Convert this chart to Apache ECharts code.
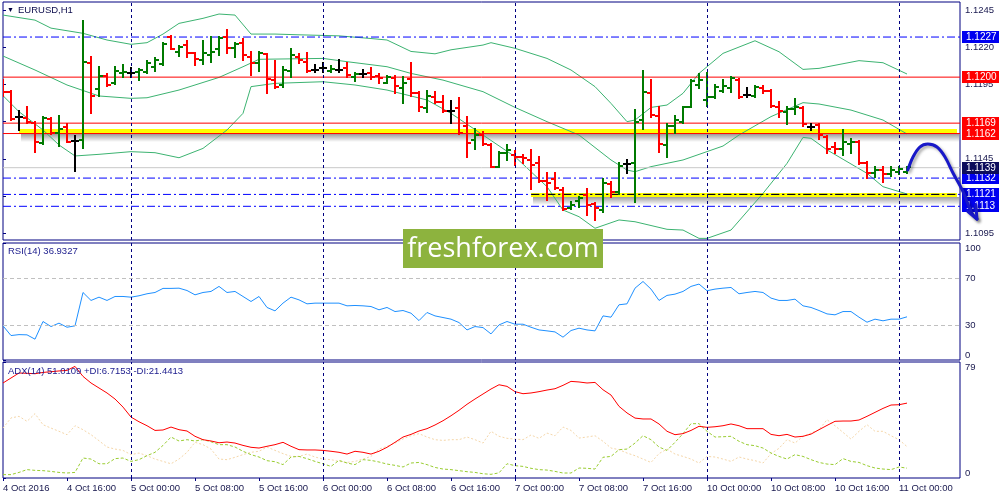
<!DOCTYPE html>
<html><head><meta charset="utf-8">
<script src="https://cdn.jsdelivr.net/npm/echarts@6/dist/echarts.min.js"></script>
<style>html,body{margin:0;padding:0;background:#fff}#c{width:1000px;height:500px}</style>
</head><body><div id="c"></div><script>
// ---------- data ----------
const timeLabels = ['4 Oct 2016','4 Oct 16:00','5 Oct 00:00','5 Oct 08:00','5 Oct 16:00','6 Oct 00:00','6 Oct 08:00','6 Oct 16:00','7 Oct 00:00','7 Oct 08:00','7 Oct 16:00','10 Oct 00:00','10 Oct 08:00','10 Oct 16:00','11 Oct 00:00'];
const barsPerLabel = 8;
const priceTicks = [1.1095,1.1120,1.1145,1.1170,1.1195,1.1220,1.1245];
const rsiTicks = [0,30,70,100];
const rsiLevels = [70,30];
const adxTicks = [0,79];

const open = [1.11969,1.11902,1.11729,1.11722,1.11693,1.11558,1.11720,1.11626,1.11662,1.11570,
1.11576,1.12097,1.11918,1.12007,1.11958,1.12025,1.12030,1.12032,1.12037,1.12066,
1.12086,1.12272,1.12171,1.12216,1.12160,1.12115,1.12149,1.12187,1.12272,1.12194,
1.12227,1.12133,1.12093,1.12153,1.11980,1.11947,1.12043,1.12138,1.12104,1.12048,
1.12059,1.12043,1.12048,1.12059,1.12003,1.12021,1.12030,1.12010,1.11963,1.11992,
1.11924,1.11985,1.11895,1.11790,1.11868,1.11835,1.11774,1.11790,1.11671,1.11576,
1.11610,1.11543,1.11397,1.11491,1.11475,1.11464,1.11442,1.11419,1.11298,1.11312,
1.11240,1.11116,1.11168,1.11206,1.11143,1.11105,1.11280,1.11229,1.11415,1.11419,
1.11711,1.11895,1.11738,1.11543,1.11671,1.11700,1.11796,1.11947,1.11846,1.11864,
1.11909,1.11924,1.11980,1.11879,1.11873,1.11924,1.11906,1.11796,1.11767,1.11783,
1.11790,1.11666,1.11677,1.11594,1.11532,1.11514,1.11550,1.11565,1.11424,1.11352,
1.11374,1.11347,1.11363,1.11363];
const high = [1.11980,1.11906,1.11774,1.11796,1.11700,1.11729,1.11727,1.11738,1.11684,1.11603,
1.12378,1.12133,1.12066,1.12021,1.12066,1.12082,1.12059,1.12052,1.12111,1.12126,
1.12227,1.12277,1.12209,1.12245,1.12165,1.12245,1.12268,1.12268,1.12317,1.12232,
1.12254,1.12171,1.12171,1.12156,1.12111,1.12066,1.12187,1.12156,1.12160,1.12082,
1.12093,1.12075,1.12115,1.12093,1.12030,1.12048,1.12059,1.12019,1.12007,1.12007,
1.11998,1.12093,1.11902,1.11909,1.11902,1.11873,1.11841,1.11857,1.11729,1.11648,
1.11633,1.11550,1.11498,1.11543,1.11505,1.11475,1.11509,1.11464,1.11352,1.11352,
1.11251,1.11161,1.11195,1.11244,1.11150,1.11312,1.11296,1.11424,1.11442,1.11778,
1.12043,1.11980,1.11796,1.11684,1.11738,1.11796,1.11980,1.12021,1.12025,1.11947,
1.11980,1.11998,1.11985,1.11924,1.11940,1.11940,1.11913,1.11835,1.11796,1.11850,
1.11796,1.11684,1.11684,1.11603,1.11554,1.11644,1.11581,1.11572,1.11430,1.11397,
1.11397,1.11397,1.11397,1.11397];
const low = [1.11873,1.11711,1.11644,1.11689,1.11498,1.11550,1.11617,1.11538,1.11561,1.11370,
1.11520,1.11756,1.11873,1.11942,1.11951,1.12003,1.11998,1.11980,1.12025,1.12043,
1.12082,1.12187,1.12142,1.12138,1.12082,1.12088,1.12104,1.12149,1.12165,1.12133,
1.12115,1.12014,1.12043,1.11891,1.11924,1.11936,1.12003,1.12093,1.12037,1.12037,
1.12037,1.12037,1.12037,1.11998,1.11976,1.11998,1.11985,1.11958,1.11958,1.11891,
1.11828,1.11873,1.11774,1.11767,1.11823,1.11767,1.11689,1.11617,1.11460,1.11514,
1.11543,1.11392,1.11392,1.11442,1.11408,1.11419,1.11244,1.11296,1.11172,1.11244,
1.11105,1.11110,1.11128,1.11071,1.11038,1.11094,1.11190,1.11213,1.11352,1.11161,
1.11648,1.11729,1.11498,1.11460,1.11626,1.11693,1.11796,1.11924,1.11805,1.11857,
1.11902,1.11902,1.11857,1.11868,1.11868,1.11891,1.11796,1.11729,1.11684,1.11752,
1.11671,1.11644,1.11581,1.11491,1.11491,1.11475,1.11491,1.11415,1.11318,1.11330,
1.11296,1.11334,1.11347,1.11356];
const close = [1.11902,1.11716,1.11729,1.11700,1.11565,1.11727,1.11621,1.11648,1.11561,1.11570,
1.12104,1.11873,1.12007,1.11947,1.12041,1.12037,1.12030,1.12048,1.12093,1.12115,
1.12223,1.12189,1.12205,1.12160,1.12120,1.12165,1.12171,1.12261,1.12194,1.12223,
1.12149,1.12093,1.12165,1.11985,1.11936,1.12048,1.12149,1.12115,1.12041,1.12048,
1.12059,1.12055,1.12048,1.12014,1.12021,1.12021,1.12003,1.11992,1.11998,1.11940,
1.11958,1.11895,1.11796,1.11873,1.11835,1.11774,1.11774,1.11621,1.11558,1.11610,
1.11550,1.11397,1.11491,1.11509,1.11464,1.11453,1.11408,1.11303,1.11289,1.11251,
1.11110,1.11139,1.11184,1.11139,1.11116,1.11285,1.11229,1.11401,1.11415,1.11700,
1.11902,1.11745,1.11550,1.11671,1.11711,1.11796,1.11974,1.11980,1.11864,1.11936,
1.11942,1.11992,1.11868,1.11879,1.11936,1.11909,1.11805,1.11774,1.11783,1.11796,
1.11684,1.11666,1.11610,1.11514,1.11514,1.11565,1.11565,1.11424,1.11352,1.11374,
1.11347,1.11374,1.11379,1.11395];

// Bollinger bands sampled at [bar index, price]
const bbUpper = [[0,1.12418],[4,1.12384],[6,1.12330],[10,1.12295],[13,1.12250],[16,1.12221],[18,1.12232],[20,1.12290],[22,1.12362],[25,1.12396],[27,1.12425],[29,1.12418],[31,1.12290],[34,1.12290],[37,1.12285],[42,1.12278],[46,1.12260],[48,1.12250],[51,1.12173],[54,1.12157],[56,1.12184],[60,1.12216],[61,1.12232],[64,1.12194],[68,1.12126],[71,1.12048],[74,1.11936],[76,1.11823],[78,1.11700],[79,1.11711],[81,1.11796],[83,1.11812],[85,1.11891],[87,1.12025],[90,1.12160],[94,1.12245],[97,1.12171],[100,1.12052],[102,1.12059],[107,1.12111],[110,1.12097],[113,1.12021]];
const bbMiddle = [[0,1.12142],[4,1.12048],[8,1.11947],[12,1.11873],[16,1.11857],[18,1.11861],[22,1.11913],[27,1.11998],[30,1.12070],[32,1.12120],[40,1.12126],[43,1.12104],[48,1.12070],[51,1.12025],[55,1.11980],[60,1.11902],[64,1.11796],[68,1.11700],[72,1.11610],[76,1.11442],[78,1.11374],[79,1.11363],[81,1.11397],[85,1.11442],[90,1.11536],[92,1.11610],[96,1.11734],[100,1.11828],[102,1.11819],[106,1.11778],[110,1.11711],[113,1.11617]];
const bbLower = [[0,1.11875],[2,1.11767],[5,1.11644],[7,1.11543],[9,1.11469],[12,1.11480],[16,1.11498],[19,1.11491],[22,1.11457],[25,1.11520],[28,1.11644],[30,1.11756],[31,1.11936],[34,1.11958],[40,1.11969],[44,1.11947],[48,1.11913],[53,1.11846],[56,1.11756],[60,1.11610],[64,1.11464],[68,1.11262],[70,1.11105],[72,1.11060],[74,1.10982],[77,1.11038],[79,1.11026],[83,1.10975],[85,1.10970],[87,1.10914],[88,1.10914],[91,1.10970],[95,1.11217],[98,1.11419],[100,1.11594],[101,1.11588],[103,1.11510],[108,1.11352],[110,1.11262],[113,1.11213]];

const rsi = [29.2,20.9,21.7,21.5,17.8,32.9,28.6,31.5,28.0,29.2,
57.7,50.9,53.7,50.9,54.3,54.3,53.7,54.9,56.6,57.7,
61.2,61.2,61.4,59.4,55.7,57.7,58.6,62.9,57.7,58.6,
54.3,50.0,54.3,44.9,42.0,48.6,53.7,51.4,48.0,48.6,
48.6,48.6,48.6,46.3,46.6,46.3,45.7,42.9,44.9,41.4,
42.3,40.0,33.7,40.6,37.7,36.3,34.9,32.0,25.7,28.6,
27.7,22.3,30.0,32.9,30.6,30.6,28.0,25.7,24.9,24.0,
19.5,25.2,27.2,25.7,24.9,37.7,36.6,47.2,48.0,61.4,
67.1,60.6,50.9,55.2,56.3,58.6,62.9,64.9,59.2,60.6,
61.4,62.0,56.6,57.7,58.6,57.7,52.9,50.9,50.9,52.0,
46.3,44.9,42.3,39.4,38.6,41.4,41.4,36.6,32.3,34.9,
33.5,34.9,34.9,36.9];
const adx = [64.7,68.1,71.5,71.3,71.0,71.9,72.4,72.9,73.3,76.0,
69.2,64.7,61.3,57.9,53.8,48.3,41.5,38.3,35.6,32.4,
32.7,34.7,32.9,32.0,28.4,26.1,25.2,24.0,24.5,23.8,
22.2,20.9,20.4,21.6,22.7,24.3,21.6,19.3,19.1,19.1,
18.8,18.2,17.5,16.3,18.2,17.5,16.3,18.2,20.9,24.3,
27.9,29.7,32.0,33.6,36.1,39.0,42.4,46.1,50.2,53.8,
57.2,60.6,63.5,62.4,58.8,57.4,57.9,58.8,59.9,60.8,
63.1,65.8,65.4,64.7,65.1,60.1,56.5,48.8,44.3,40.8,
40.2,40.2,36.8,31.8,29.5,30.2,32.4,35.2,34.5,34.9,
35.6,36.8,35.6,33.6,33.6,33.6,29.7,28.8,29.7,27.9,
28.4,29.9,32.9,35.8,38.6,38.8,38.8,39.5,42.0,44.7,
47.4,49.7,49.9,51.0];
const plusDI = [2.3,2.3,3.8,5.7,5.2,5.0,4.5,3.8,3.4,3.8,
13.6,12.9,9.7,9.7,13.2,13.6,11.3,12.5,15.2,17.5,
22.2,27.9,25.2,26.1,25.2,26.1,24.7,22.7,22.7,21.1,
18.2,15.9,14.3,11.8,11.1,9.1,14.3,14.7,13.2,11.3,
9.7,7.9,12.0,10.2,9.1,12.5,12.0,10.9,9.5,8.6,
7.5,10.2,10.6,9.1,7.2,6.1,5.7,5.0,4.3,3.8,
2.9,2.5,3.5,9.7,8.4,7.9,6.6,5.7,5.4,4.5,
3.4,3.4,6.8,6.6,6.1,14.1,14.7,19.3,19.7,23.8,
28.8,26.1,21.1,18.8,24.3,30.2,37.0,37.0,31.8,27.9,
28.1,28.4,25.0,22.7,22.0,20.4,17.0,14.7,12.9,15.9,
14.7,12.5,10.6,9.5,9.1,13.2,11.3,10.6,8.4,6.8,
6.1,5.7,7.5,6.7];
const minusDI = [34.0,40.9,42.0,38.6,43.8,36.3,34.0,31.8,29.5,35.6,
32.9,29.5,25.4,21.1,19.7,18.8,15.9,17.0,15.2,12.9,
11.3,9.7,12.9,17.5,24.3,22.7,19.7,12.9,12.5,14.1,
15.9,17.5,18.2,21.1,18.8,16.6,14.7,14.7,16.3,14.3,
12.9,12.5,11.3,10.6,11.3,12.9,14.7,19.7,21.6,23.8,
26.6,28.8,30.2,27.9,26.1,25.6,26.1,26.1,27.9,26.1,
23.8,31.8,28.4,27.0,26.5,26.1,29.3,27.0,30.6,28.8,
34.7,32.4,27.2,27.9,28.8,25.0,20.4,19.3,17.0,15.2,
12.9,10.6,16.6,19.7,16.3,14.7,12.9,10.2,14.7,14.3,
12.9,11.3,14.3,12.9,11.8,10.2,16.6,20.2,26.1,23.8,
28.4,30.6,32.9,39.7,35.6,31.1,26.5,31.8,36.3,31.8,
31.8,28.8,26.1,21.4];

// horizontal price levels and zones
const redLevels = [1.1200, 1.1169, 1.1162];
const blueLevels = [1.1227, 1.1132, 1.1121, 1.1113];
const bidLevel = [1.1139];
const blackLevel = 1.1121;
// zones: [from bar, low price, to bar, high price]
const zones = [[2.05, 1.1162, 119.25, 1.11648], [66.05, 1.11195, 119.25, 1.11222]];
const blackFrom = 66.05, blackTo = 119.25;
const daySeparators = [16, 40, 64, 88, 112];
const forecastArrow = [[113.1,1.11374],[113.75,1.11462],[114.6,1.11529],[115.6,1.11549],[116.75,1.11529],[117.75,1.11462],[118.75,1.11354],[119.9,1.11240],[121.1,1.11085],[121.75,1.11044]];
const arrowHead = [[120.6,1.11094],[121.75,1.11044],[121.6,1.11139]];
const rsiText = 'RSI(14) 36.9327';
const adxText = 'ADX(14) 51.0109 +DI:6.7153 -DI:21.4413';

// ---------- chart ----------
const FONT = "'Liberation Sans', Arial, sans-serif";
const NAVY = '#000080';
const TXT = '#18184e';
const X_MIN = 0, X_MAX = 119.625;
const chart = echarts.init(document.getElementById('c'), null, {renderer: 'canvas'});
const labelIdx = timeLabels.map((_, k) => k * barsPerLabel);
const ohlc = open.map((o, i) => [i, o, high[i], low[i], close[i]]);

function renderBar(params, api) {
  const i = api.value(0);
  const o = api.value(1), h = api.value(2), l = api.value(3), c = api.value(4);
  const pH = api.coord([i, h]), pL = api.coord([i, l]);
  const pO = api.coord([i, o]), pC = api.coord([i, c]);
  const x = Math.round(pH[0]);
  const col = c > o ? '#007a00' : (c < o ? '#ff0000' : '#000000');
  const yO = Math.round(pO[1]), yC = Math.round(pC[1]);
  const yH = Math.round(pH[1]) - 1, yL = Math.round(pL[1]) + 1;
  return {type: 'group', children: [
    {type: 'rect', shape: {x: x - 1, y: yH, width: 2, height: Math.max(1, yL - yH)}, style: {fill: col}},
    {type: 'rect', shape: {x: x - 4, y: yO - 1, width: 4, height: 2}, style: {fill: col}},
    {type: 'rect', shape: {x: x, y: yC - 1, width: 4, height: 2}, style: {fill: col}}
  ]};
}

const blueDash = [8, 3, 2, 3];
// horizontal level line as a two-point line series
function level(v, color, type, from, to) {
  return {type: 'line', xAxisIndex: 0, yAxisIndex: 0, silent: true, z: 3, symbol: 'none',
    data: [[from === undefined ? X_MIN : from, v], [to === undefined ? X_MAX : to, v]],
    lineStyle: {color: color, type: type, width: 1}};
}
// price tags on the right-hand axis
function levelTags(values, bg, z) {
  return {type: 'custom', xAxisIndex: 0, yAxisIndex: 0, silent: true, clip: false, z: z || 10,
    data: values.map(v => [X_MAX, v]), encode: {x: 0, y: 1},
    renderItem: (params, api) => {
      const v = api.value(1);
      const p = api.coord([X_MAX, v]);
      const y = Math.round(p[1]);
      const x = Math.round(p[0]) + 2;
      return {type: 'group', children: [
        {type: 'rect', shape: {x: x, y: y - 6, width: 37, height: 12}, style: {fill: bg}},
        {type: 'text', x: x + 4, y: y + 0.5, style: {text: v.toFixed(4), fill: '#ffffff', font: '10px ' + FONT, align: 'left', verticalAlign: 'middle'}}
      ]};
    }};
}

const shadowGrad = {type: 'linear', x: 0, y: 0, x2: 0, y2: 1,
  colorStops: [{offset: 0, color: 'rgba(0,0,0,0.38)'}, {offset: 1, color: 'rgba(0,0,0,0)'}]};

const sepLine = (xi, yi) => ({
  type: 'line', xAxisIndex: xi, yAxisIndex: yi, data: [], silent: true, z: 1,
  markLine: {symbol: 'none', silent: true, animation: false, label: {show: false},
    lineStyle: {color: NAVY, type: [3, 3], width: 1},
    data: daySeparators.map(d => ({xAxis: d}))}
});

const arrowStyle = {stroke: '#1818c8', fill: null, lineWidth: 3, lineCap: 'round', lineJoin: 'round',
  shadowColor: 'rgba(0,0,0,0.35)', shadowBlur: 3, shadowOffsetX: 2, shadowOffsetY: 2};

const axisLabelBase = {color: TXT, fontFamily: FONT, fontSize: 9.5};

const option = {
  animation: false,
  backgroundColor: '#ffffff',
  grid: [
    {left: 3, top: 2, width: 957, height: 238, show: true, borderColor: NAVY, borderWidth: 1, backgroundColor: '#fff'},
    {left: 3, top: 243, width: 957, height: 117, show: true, borderColor: NAVY, borderWidth: 1, backgroundColor: '#fff'},
    {left: 3, top: 362, width: 957, height: 116, show: true, borderColor: NAVY, borderWidth: 1, backgroundColor: '#fff'}
  ],
  xAxis: [0, 1, 2].map(g => ({
    type: 'value', gridIndex: g, min: X_MIN, max: X_MAX,
    axisLine: {show: false}, splitLine: {show: false},
    axisTick: {show: g === 2, customValues: labelIdx, length: 3, lineStyle: {color: NAVY}},
    axisLabel: Object.assign({show: g === 2, customValues: labelIdx, align: 'left', margin: 5,
      formatter: v => timeLabels[Math.round(v / barsPerLabel)] || ''}, axisLabelBase)
  })),
  yAxis: [
    {type: 'value', gridIndex: 0, position: 'right', min: 1.10903, max: 1.12506,
      axisLine: {show: false}, splitLine: {show: false},
      axisTick: {show: true, customValues: priceTicks, length: 3, lineStyle: {color: NAVY}},
      axisLabel: Object.assign({customValues: priceTicks, margin: 5, formatter: v => v.toFixed(4)}, axisLabelBase)},
    {type: 'value', gridIndex: 1, position: 'right', min: 0, max: 100,
      axisLine: {show: false}, splitLine: {show: false},
      axisTick: {show: true, customValues: rsiTicks, length: 3, lineStyle: {color: NAVY}},
      axisLabel: Object.assign({customValues: rsiTicks, margin: 5, verticalAlignMaxLabel: 'top', verticalAlignMinLabel: 'bottom'}, axisLabelBase)},
    {type: 'value', gridIndex: 2, position: 'right', min: 0, max: 79,
      axisLine: {show: false}, splitLine: {show: false},
      axisTick: {show: true, customValues: adxTicks, length: 3, lineStyle: {color: NAVY}},
      axisLabel: Object.assign({customValues: adxTicks, margin: 5, verticalAlignMaxLabel: 'top', verticalAlignMinLabel: 'bottom'}, axisLabelBase)}
  ],
  series: [
    // yellow zones with a soft drop shadow
    {type: 'custom', xAxisIndex: 0, yAxisIndex: 0, data: zones, encode: {x: [0, 2], y: [1, 3]}, clip: true, silent: true, z: 1,
      renderItem: (params, api) => {
        const a = api.coord([api.value(0), api.value(3)]);
        const b = api.coord([api.value(2), api.value(1)]);
        const x = Math.round(a[0]), y = Math.round(a[1]);
        const w = Math.round(b[0]) - x, h = Math.max(3, Math.round(b[1]) - y);
        return {type: 'group', children: [
          {type: 'rect', shape: {x: x + 2, y: y + h, width: w, height: 8}, style: {fill: shadowGrad}},
          {type: 'rect', shape: {x: x, y: y, width: w, height: h}, style: {fill: '#ffff00'}}
        ]};
      }},
    sepLine(0, 0), sepLine(1, 1), sepLine(2, 2),
    // price levels
    ...blueLevels.map(v => level(v, '#0000ff', blueDash)),
    ...bidLevel.map(v => level(v, '#c8c8c8', 'solid')),
    level(blackLevel, '#000000', blueDash, blackFrom, blackTo),
    ...redLevels.map(v => level(v, '#ff0000', 'solid')),
    levelTags(blueLevels, '#0000f0'),
    levelTags(bidLevel, '#0c0c5c'),
    levelTags(redLevels, '#ff0000'),
    // Bollinger
    ...[bbUpper, bbMiddle, bbLower].map(d => ({type: 'line', xAxisIndex: 0, yAxisIndex: 0, data: d, symbol: 'none', silent: true, z: 2,
      lineStyle: {color: '#3cb371', width: 1}})),
    // OHLC bars
    {type: 'custom', xAxisIndex: 0, yAxisIndex: 0, data: ohlc, renderItem: renderBar, clip: true, z: 4,
      encode: {x: 0, y: [1, 2, 3, 4]}, silent: true},
    // hand-drawn forecast arrow (in chart coordinates)
    {type: 'custom', xAxisIndex: 0, yAxisIndex: 0, data: [forecastArrow[0]], encode: {x: 0, y: 1}, clip: false, silent: true, z: 20,
      renderItem: (params, api) => ({type: 'group', children: [
        {type: 'polyline', shape: {points: forecastArrow.map(p => api.coord(p)), smooth: 0.35}, style: arrowStyle},
        {type: 'polyline', shape: {points: arrowHead.map(p => api.coord(p))}, style: arrowStyle}
      ]})},
    // RSI
    {type: 'line', xAxisIndex: 1, yAxisIndex: 1, data: rsi.map((v, i) => [i, v]), symbol: 'none', silent: true, z: 3,
      lineStyle: {color: '#1e90ff', width: 1},
      markLine: {symbol: 'none', silent: true, animation: false, label: {show: false},
        lineStyle: {color: '#c0c0c0', type: [4, 3], width: 1},
        data: rsiLevels.map(v => ({yAxis: v}))}},
    // ADX
    {type: 'line', xAxisIndex: 2, yAxisIndex: 2, data: minusDI.map((v, i) => [i, v]), symbol: 'none', silent: true, z: 2,
      lineStyle: {color: '#f5d7aa', width: 1, type: [2, 2]}},
    {type: 'line', xAxisIndex: 2, yAxisIndex: 2, data: plusDI.map((v, i) => [i, v]), symbol: 'none', silent: true, z: 2,
      lineStyle: {color: '#9acd32', width: 1, type: [3, 2]}},
    {type: 'line', xAxisIndex: 2, yAxisIndex: 2, data: adx.map((v, i) => [i, v]), symbol: 'none', silent: true, z: 3,
      lineStyle: {color: '#ff0000', width: 1}}
  ],
  graphic: [
    {type: 'text', left: 7, top: 7, z: 50, style: {text: '▼', fill: '#000040', font: '7px ' + FONT}},
    {type: 'text', left: 18, top: 5, z: 50, style: {text: 'EURUSD,H1', fill: '#0c0c4c', font: '9.5px ' + FONT}},
    {type: 'text', left: 8, top: 246, z: 50, style: {text: rsiText, fill: '#1a1a8c', font: '9.5px ' + FONT}},
    {type: 'text', left: 8, top: 366, z: 50, style: {text: adxText, fill: '#1a1a8c', font: '9.5px ' + FONT}},
    {type: 'rect', z: 70, shape: {x: 403, y: 229, width: 200, height: 39}, style: {fill: '#8db33e'}},
    {type: 'text', z: 71, x: 503, y: 249, style: {text: 'freshforex.com', fill: '#ffffff', font: '27px "Open Sans", sans-serif', align: 'center', verticalAlign: 'middle'}}
  ]
};

chart.setOption(option);
</script></body></html>
